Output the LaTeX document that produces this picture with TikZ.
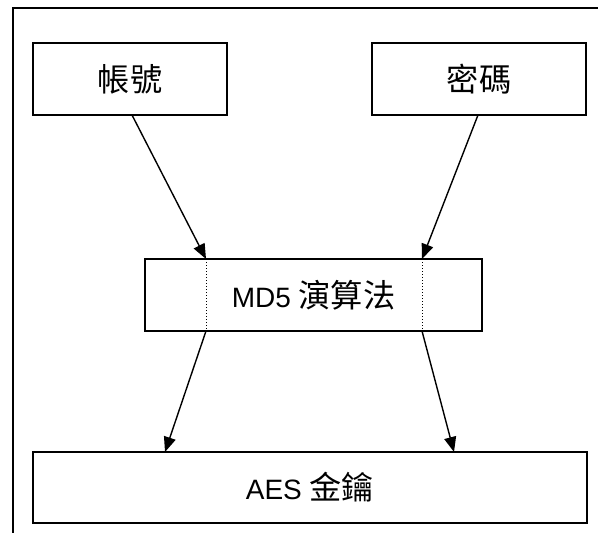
\documentclass[tikz,border=0pt]{standalone}
\usepackage{fontspec}
\setmainfont{Liberation Sans}
\newfontfamily\cjk[Scale=1.15]{Noto Sans CJK TC}
\usetikzlibrary{arrows.meta}
\begin{document}
\begin{tikzpicture}[x=1pt,y=-1pt,
  box/.style={draw=black,line width=2pt,fill=white,inner sep=0pt,outer sep=0pt,font=\fontsize{28}{34}\selectfont},
  conn/.style={line width=1.4pt,-{Triangle[length=15pt,width=12pt]}},
  sep/.style={line width=1pt,dotted}]
\useasboundingbox[fill=white] (0,0) rectangle (598,533);
\draw[line width=2pt] (598,8) -- (13,8) -- (13,533);
\node[box,minimum width=194pt,minimum height=72pt] (acc) at (130,79) {\cjk 帳號};
\node[box,minimum width=214pt,minimum height=72pt] (pwd) at (479,79) {\cjk 密碼};
\node[box,minimum width=337pt,minimum height=72pt] (md5) at (313.5,295) {MD5 {\cjk 演算法}};
\node[box,minimum width=554pt,minimum height=71pt] (aes) at (310,487.5) {AES {\cjk 金鑰}};
\coordinate (d1t) at (206,259);
\coordinate (d1b) at (206,331);
\coordinate (d2t) at (422,259);
\coordinate (d2b) at (422,331);
\draw[sep] (d1t) -- (d1b);
\draw[sep] (d2t) -- (d2b);
\coordinate (a1s) at (132,115);
\coordinate (a2s) at (478,115);
\coordinate (a4t) at (454,452);
\coordinate (a3t) at (165,452);
\draw[conn] (a1s) -- (d1t);
\draw[conn] (a2s) -- (d2t);
\draw[conn] (d1b) -- (a3t);
\draw[conn] (d2b) -- (a4t);
\end{tikzpicture}
\end{document}
